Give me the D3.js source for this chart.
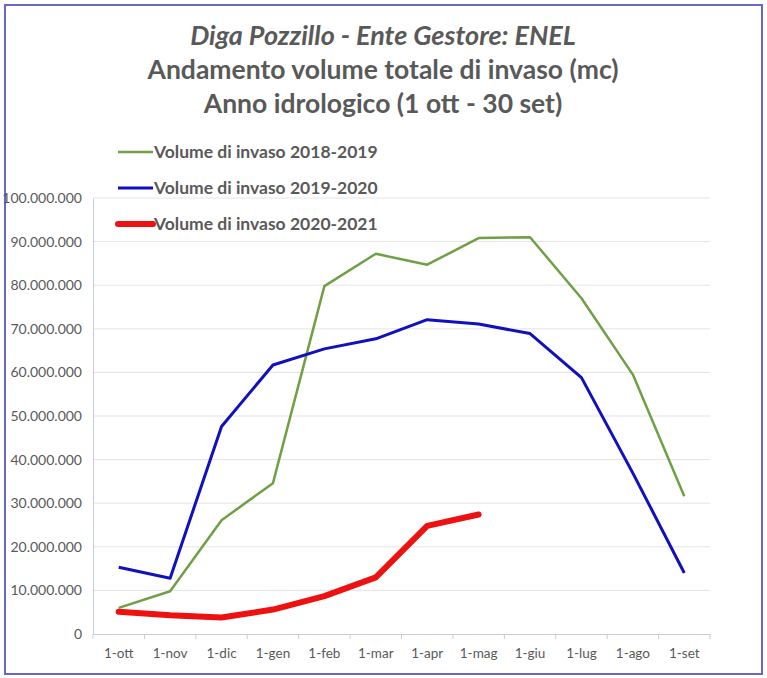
<!DOCTYPE html>
<html>
<head>
<meta charset="utf-8">
<script src="https://cdn.jsdelivr.net/npm/d3@7"></script>
<style>
  body { margin: 0; background: #fff; }
  text { font-family: Lato, "Open Sans", sans-serif; }
</style>
</head>
<body>
<svg id="chart" width="767" height="678"></svg>
<script>
const months = ['1-ott', '1-nov', '1-dic', '1-gen', '1-feb', '1-mar', '1-apr', '1-mag', '1-giu', '1-lug', '1-ago', '1-set'];
const vol2018 = [6.0, 9.8, 26.1, 34.6, 79.8, 87.2, 84.7, 90.8, 91.0, 77.0, 59.5, 31.6].map(v => v * 1e6);
const vol2019 = [15.3, 12.8, 47.6, 61.7, 65.4, 67.7, 72.1, 71.1, 68.9, 58.8, 36.9, 14.0].map(v => v * 1e6);
const vol2020 = [5.1, 4.3, 3.8, 5.6, 8.7, 13.0, 24.8, 27.4].map(v => v * 1e6);
const yTicks = [0, 10e6, 20e6, 30e6, 40e6, 50e6, 60e6, 70e6, 80e6, 90e6, 100e6];
const titleLines = ['Diga Pozzillo - Ente Gestore: ENEL', 'Andamento volume totale di invaso (mc)', 'Anno idrologico (1 ott - 30 set)'];

const series = [
  { name: 'Volume di invaso 2018-2019', values: vol2018, color: '#70a046', width: 2.5 },
  { name: 'Volume di invaso 2019-2020', values: vol2019, color: '#1010c0', width: 3 },
  { name: 'Volume di invaso 2020-2021', values: vol2020, color: '#ee1111', width: 6 }
];

const svg = d3.select('#chart');
const grey = '#595959';

// outer frame
svg.append('rect')
  .attr('x', 5).attr('y', 5).attr('width', 757).attr('height', 669)
  .attr('fill', 'none').attr('stroke', '#6767cc').attr('stroke-width', 2);

// title
svg.selectAll('text.title').data(titleLines).enter().append('text')
  .attr('class', 'title')
  .attr('x', 383)
  .attr('y', (d, i) => 45 + i * 34)
  .attr('text-anchor', 'middle')
  .attr('font-size', (d, i) => i === 0 ? 27 : 26.5)
  .attr('font-weight', 'bold')
  .attr('font-style', (d, i) => i === 0 ? 'italic' : 'normal')
  .attr('fill', grey)
  .text(d => d);

const xScale = d3.scaleBand().domain(months).range([93, 710]);
const yScale = d3.scaleLinear().domain([0, 100e6]).range([634, 198]);
const fmt = d => d3.format(',')(d).replace(/,/g, '.');

// gridlines
svg.append('g')
  .selectAll('line').data(yTicks.slice(1)).enter().append('line')
  .attr('x1', 93).attr('x2', 710)
  .attr('y1', d => yScale(d)).attr('y2', d => yScale(d))
  .attr('stroke', '#e4e4e4').attr('stroke-width', 1);

// y axis
const yAxis = d3.axisLeft(yScale).tickValues(yTicks).tickSize(0).tickPadding(11).tickFormat(fmt);
const yG = svg.append('g').attr('transform', 'translate(93, 0)').call(yAxis);
yG.select('.domain').attr('stroke', '#c5cbe0');
yG.selectAll('text').attr('font-size', 14).attr('fill', grey).style('font-family', 'Lato, sans-serif');

// x axis
const xAxis = d3.axisBottom(xScale).tickSize(0).tickPadding(14);
const xG = svg.append('g').attr('transform', 'translate(0, 634)').call(xAxis);
xG.select('.domain').attr('stroke', '#c5cbe0');
xG.selectAll('text').attr('font-size', 13.5).attr('fill', grey).style('font-family', 'Lato, sans-serif');
// ticks at category boundaries
const bounds = months.map(m => xScale(m)).concat([xScale.range()[1]]);
xG.selectAll('line.bound').data(bounds).enter().append('line')
  .attr('class', 'bound')
  .attr('x1', d => d).attr('x2', d => d)
  .attr('y1', 0).attr('y2', 5)
  .attr('stroke', '#c5cbe0');

// lines
const line = d3.line()
  .x((d, i) => xScale(months[i]) + xScale.bandwidth() / 2)
  .y(d => yScale(d));

svg.selectAll('path.series').data(series).enter().append('path')
  .attr('class', 'series')
  .attr('d', d => line(d.values))
  .attr('fill', 'none')
  .attr('stroke', d => d.color)
  .attr('stroke-width', d => d.width)
  .attr('stroke-linejoin', 'round')
  .attr('stroke-linecap', d => d.width > 4 ? 'round' : 'butt');

// legend
const legend = svg.selectAll('g.legend').data(series).enter().append('g')
  .attr('class', 'legend')
  .attr('transform', (d, i) => `translate(118, ${152 + i * 36})`);
legend.append('line')
  .attr('x1', 0).attr('x2', 35).attr('y1', 0).attr('y2', 0)
  .attr('stroke', d => d.color)
  .attr('stroke-width', d => d.width)
  .attr('stroke-linecap', d => d.width > 4 ? 'round' : 'butt');
legend.append('text')
  .attr('x', 36).attr('y', 6)
  .attr('font-size', 17.5)
  .attr('font-weight', 'bold')
  .attr('fill', grey)
  .text(d => d.name);
</script>
</body>
</html>
